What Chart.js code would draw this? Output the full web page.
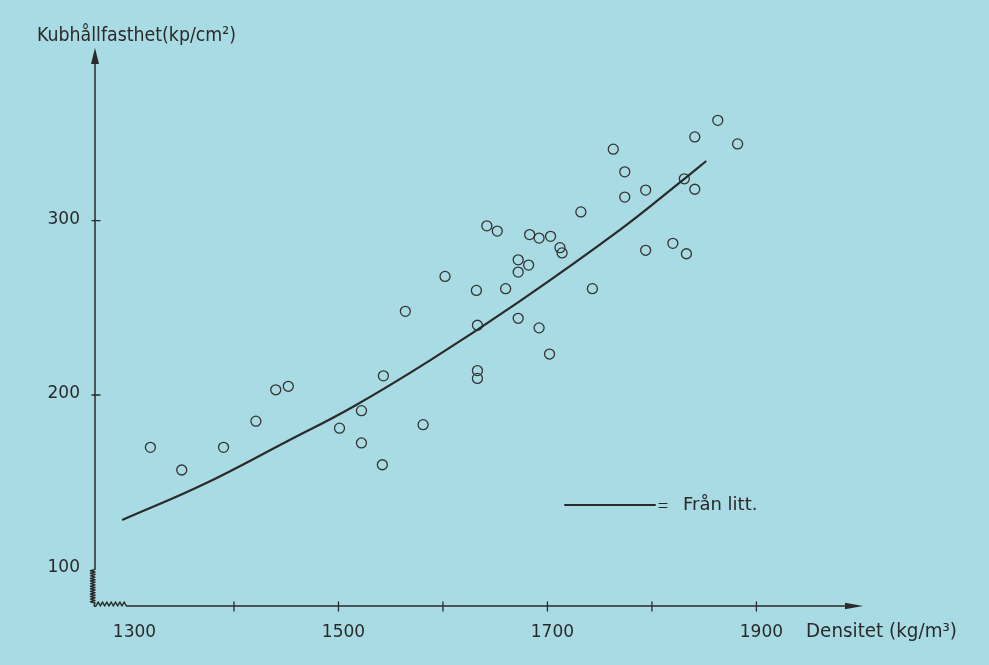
<!DOCTYPE html>
<html>
<head>
<meta charset="utf-8">
<script src="https://cdn.jsdelivr.net/npm/chart.js@4.4.1/dist/chart.umd.min.js"></script>
<style>
  html, body { margin: 0; padding: 0; background: #a8dbe3; }
  canvas { display: block; }
</style>
</head>
<body>
<canvas id="c" width="989" height="665"></canvas>
<script>
// ---- Data ----
const densityX = [1320, 1350, 1390, 1421, 1440, 1452, 1501, 1522, 1522, 1542, 1543, 1564, 1581, 1602,
  1632, 1633, 1633, 1633, 1642, 1652, 1660, 1672, 1672, 1672, 1682, 1683, 1692, 1692, 1703, 1702,
  1712, 1714, 1732, 1743, 1763, 1774, 1774, 1794, 1794, 1820, 1831, 1833, 1841, 1841, 1863, 1882];
const strengthY = [170, 157, 170, 185, 203, 205, 181, 191, 172.5, 160, 211, 248, 183, 268,
  260, 240, 214, 209.5, 297, 294, 261, 244, 277.5, 270.5, 274.5, 292, 238.5, 290, 291, 223.5,
  284.5, 281.5, 305, 261, 341, 328, 313.5, 317.5, 283, 287, 324, 281, 348, 318, 357.5, 344];
const curveX = [1293, 1370, 1451, 1514, 1588, 1674, 1770, 1831, 1852];
const curveY = [128.3, 148.5, 173.5, 193.3, 220, 254, 295, 324, 334.2];
const xTickValues = [1400, 1500, 1600, 1700, 1800, 1900];
const xTickLabels = ["1300", "1500", "1700", "1900"];
const xLabelValues = [1300, 1500, 1700, 1900];
const yTickValues = [200, 300];
const yTickLabels = ["100", "200", "300"];
const yLabelValues = [100, 200, 300];
const yTitle = "Kubhållfasthet(kp/cm²)";
const xTitle = "Densitet (kg/m³)";
const legendText = "Från litt.";

const INK = "#2a2a2a";
const FONT = "'DejaVu Sans', sans-serif";

const scatterData = densityX.map((x, i) => ({ x: x, y: strengthY[i] }));
const curveData = curveX.map((x, i) => ({ x: x, y: curveY[i] }));

const axesPlugin = {
  id: 'handAxes',
  afterDraw(chart) {
    const ctx = chart.ctx;
    const xs = chart.scales.x, ys = chart.scales.y;
    const axisX = xs.getPixelForValue(xs.min);
    const axisY = ys.getPixelForValue(ys.min);
    const topY = ys.getPixelForValue(ys.max);
    const rightX = xs.getPixelForValue(xs.max);
    ctx.save();
    ctx.strokeStyle = INK;
    ctx.fillStyle = INK;
    ctx.lineWidth = 1.5;
    ctx.lineJoin = 'round';
    ctx.lineCap = 'round';

    // Y axis: straight part
    const y100 = ys.getPixelForValue(100);
    ctx.beginPath();
    ctx.moveTo(axisX, topY + 14);
    ctx.lineTo(axisX, y100);
    // vertical zigzag (axis break)
    const zzBottom = axisY - 3;
    const nV = 13;
    for (let i = 1; i <= nV * 2; i++) {
      const yy = y100 + (zzBottom - y100) * i / (nV * 2);
      ctx.lineTo(i % 2 ? axisX - 4.5 : axisX, yy);
    }
    ctx.quadraticCurveTo(axisX - 2, axisY + 1, axisX + 1, axisY);
    // horizontal zigzag
    const xBreakEnd = xs.getPixelForValue(1297);
    const nH = 7;
    for (let i = 1; i <= nH * 2; i++) {
      const xx = axisX + 1 + (xBreakEnd - axisX - 1) * i / (nH * 2);
      ctx.lineTo(xx, i % 2 ? axisY - 4 : axisY);
    }
    ctx.lineTo(rightX - 16, axisY);
    ctx.stroke();

    // arrowheads
    ctx.beginPath();
    ctx.moveTo(axisX, topY);
    ctx.lineTo(axisX - 4, topY + 16);
    ctx.lineTo(axisX + 4, topY + 16);
    ctx.closePath();
    ctx.fill();
    ctx.beginPath();
    ctx.moveTo(rightX, axisY);
    ctx.lineTo(rightX - 18, axisY - 3.2);
    ctx.lineTo(rightX - 18, axisY + 3.2);
    ctx.closePath();
    ctx.fill();

    // ticks
    ctx.lineWidth = 1.3;
    xTickValues.forEach(v => {
      const px = xs.getPixelForValue(v);
      ctx.beginPath();
      ctx.moveTo(px, axisY - 4);
      ctx.lineTo(px, axisY + 5);
      ctx.stroke();
    });
    yTickValues.forEach(v => {
      const py = ys.getPixelForValue(v);
      ctx.beginPath();
      ctx.moveTo(axisX - 3, py);
      ctx.lineTo(axisX + 5, py);
      ctx.stroke();
    });

    // tick labels
    ctx.font = "17px " + FONT;
    ctx.textBaseline = 'alphabetic';
    ctx.textAlign = 'center';
    xLabelValues.forEach((v, i) => {
      const px = xs.getPixelForValue(v) + 5;
      ctx.fillText(xTickLabels[i], px, axisY + 31, 44);
    });
    ctx.textAlign = 'right';
    yLabelValues.forEach((v, i) => {
      const py = ys.getPixelForValue(v);
      ctx.fillText(yTickLabels[i], axisX - 15, py + 3, 34);
    });

    // axis titles
    ctx.textAlign = 'left';
    ctx.font = "20px " + FONT;
    ctx.fillText(yTitle, 37, 41, 199);
    ctx.font = "19px " + FONT;
    ctx.fillText(xTitle, 806, axisY + 31, 151);

    // legend
    ctx.lineWidth = 2;
    ctx.beginPath();
    ctx.moveTo(565, 505);
    ctx.lineTo(655, 505);
    ctx.stroke();
    ctx.lineWidth = 1.2;
    ctx.beginPath();
    ctx.moveTo(659, 503.5); ctx.lineTo(667, 503.5);
    ctx.moveTo(659, 507.5); ctx.lineTo(667, 507.5);
    ctx.stroke();
    ctx.font = "18px " + FONT;
    ctx.fillText(legendText, 683, 510, 80);
    ctx.restore();
  }
};

new Chart(document.getElementById('c'), {
  type: 'scatter',
  data: {
    datasets: [
      {
        label: 'Mätvärden',
        data: scatterData,
        showLine: false,
        pointStyle: 'circle',
        pointRadius: 5,
        pointBorderWidth: 1.3,
        pointBorderColor: '#333',
        pointBackgroundColor: 'rgba(0,0,0,0)',
        order: 2
      },
      {
        label: legendText,
        data: curveData,
        showLine: true,
        borderColor: INK,
        borderWidth: 2.2,
        pointRadius: 0,
        tension: 0.4,
        fill: false,
        order: 1
      }
    ]
  },
  options: {
    responsive: false,
    animation: false,
    devicePixelRatio: 1,
    layout: { padding: { left: 95, right: 126, top: 48, bottom: 59 } },
    plugins: { legend: { display: false }, tooltip: { enabled: false } },
    scales: {
      x: { type: 'linear', min: 1267, max: 2002, display: false },
      y: { type: 'linear', min: 79, max: 399, display: false }
    }
  },
  plugins: [axesPlugin]
});
</script>
</body>
</html>
